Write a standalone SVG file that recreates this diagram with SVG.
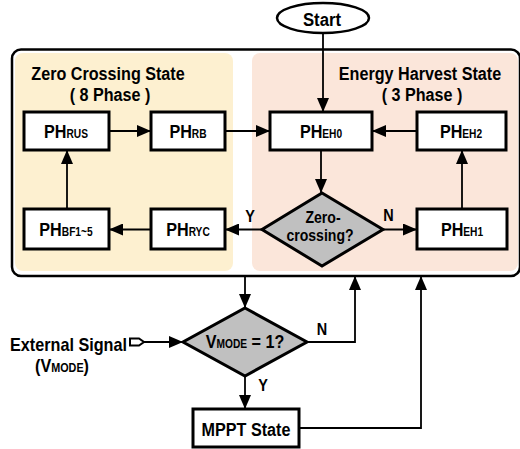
<svg xmlns="http://www.w3.org/2000/svg" width="520" height="449" viewBox="0 0 520 449">
<defs>
<marker id="ah" markerUnits="userSpaceOnUse" markerWidth="15" markerHeight="12" refX="14" refY="6" orient="auto">
<path d="M0,0 L14,6 L0,12 Z" fill="#000"/>
</marker>
<style>
text{font-family:"Liberation Sans",Arial,sans-serif;font-weight:bold;fill:#000;text-anchor:middle}
.t{font-size:19px}
.e{font-size:18px}
.ph{font-size:19px}
.sub{font-size:12px}
.lbl{font-size:17px}
.q{font-size:16px}
.box{fill:#fff;stroke:#000;stroke-width:3}
.dia{fill:#c0c0c0;stroke:#000;stroke-width:3}
.ln{fill:none;stroke:#000;stroke-width:1.8;marker-end:url(#ah)}
</style>
</defs>
<rect x="0" y="0" width="520" height="449" fill="#fff"/>
<g id="outer">
<rect x="12" y="49.5" width="508" height="226.5" rx="9" fill="#fff" stroke="#000" stroke-width="2.5"/>
</g>
<g id="zero-crossing-state">
<rect x="15" y="53" width="218" height="218" rx="8" fill="#fdf0d0"/>
<text class="t" transform="translate(108,80) scale(0.85,1)">Zero Crossing State</text>
<text class="t" transform="translate(110,101) scale(0.85,1)">( 8 Phase )</text>
</g>
<g id="energy-harvest-state">
<rect x="252" y="53" width="266" height="218" rx="8" fill="#fbe6da"/>
<text class="t" transform="translate(420,80) scale(0.85,1)">Energy Harvest State</text>
<text class="t" transform="translate(422,101) scale(0.85,1)">( 3 Phase )</text>
</g>
<g id="connectors">
<path class="ln" d="M323,33 V112"/>
<path class="ln" d="M109,131 H151"/>
<path class="ln" d="M225,131 H270"/>
<path class="ln" d="M417,131 H372"/>
<path class="ln" d="M321,150 V193"/>
<path class="ln" d="M383,229.5 H417"/>
<path class="ln" d="M462,209 V150"/>
<path class="ln" d="M262,229.5 H225"/>
<path class="ln" d="M151,229.5 H109"/>
<path class="ln" d="M67,209 V150"/>
<path class="ln" d="M245,276 V308"/>
<path class="ln" d="M245,376 V409"/>
<path class="ln" d="M307,342 H355 V276"/>
<path class="ln" d="M299,428 H421 V276"/>
<path class="ln" d="M144,342 H183"/>
<text class="lbl" transform="translate(250,222) scale(0.85,1)">Y</text>
<text class="lbl" transform="translate(388.5,221) scale(0.85,1)">N</text>
<text class="lbl" transform="translate(322,335) scale(0.85,1)">N</text>
<text class="lbl" transform="translate(263,391) scale(0.85,1)">Y</text>
</g>
<g id="start">
<ellipse cx="323" cy="18" rx="46" ry="15" fill="#fff" stroke="#000" stroke-width="2.5"/>
<text class="ph" transform="translate(322,26) scale(0.88,1)">Start</text>
</g>
<g id="ph-rus">
<rect class="box" x="24" y="112" width="85" height="38"/>
<text class="ph" transform="translate(66,138) scale(0.85,1)">PH<tspan class="sub">RUS</tspan></text>
</g>
<g id="ph-rb">
<rect class="box" x="151" y="112" width="74" height="38"/>
<text class="ph" transform="translate(188,138) scale(0.85,1)">PH<tspan class="sub">RB</tspan></text>
</g>
<g id="ph-eh0">
<rect class="box" x="270" y="112" width="102" height="38"/>
<text class="ph" transform="translate(321,138) scale(0.85,1)">PH<tspan class="sub">EH0</tspan></text>
</g>
<g id="ph-eh2">
<rect class="box" x="417" y="112" width="89" height="38"/>
<text class="ph" transform="translate(461,138) scale(0.85,1)">PH<tspan class="sub">EH2</tspan></text>
</g>
<g id="ph-bf">
<rect class="box" x="24" y="209" width="85" height="40"/>
<text class="ph" transform="translate(66,236) scale(0.85,1)">PH<tspan class="sub">BF1~5</tspan></text>
</g>
<g id="ph-ryc">
<rect class="box" x="151" y="209" width="74" height="40"/>
<text class="ph" transform="translate(188,236) scale(0.85,1)">PH<tspan class="sub">RYC</tspan></text>
</g>
<g id="ph-eh1">
<rect class="box" x="417" y="209" width="90" height="40"/>
<text class="ph" transform="translate(462,236) scale(0.85,1)">PH<tspan class="sub">EH1</tspan></text>
</g>
<g id="zero-crossing-decision">
<path class="dia" d="M322,193 L383,229.5 L322,266 L262,229.5 Z"/>
<text class="q" transform="translate(323,223) scale(0.88,1)">Zero-</text>
<text class="q" transform="translate(320,241) scale(0.88,1)">crossing?</text>
</g>
<g id="vmode-decision">
<path class="dia" d="M245,308 L307,342 L245,376 L183,342 Z"/>
<text class="ph" transform="translate(245,348) scale(0.85,1)">V<tspan class="sub">MODE</tspan> = 1?</text>
</g>
<g id="mppt-state">
<rect class="box" x="193" y="409" width="106" height="38"/>
<text class="ph" transform="translate(246,436) scale(0.85,1)">MPPT State</text>
</g>
<g id="external-signal">
<path d="M130,338.5 H139 L144,342 L139,345.5 H130 Z" fill="#fff" stroke="#000" stroke-width="2"/>
<text class="e" transform="translate(127,351) scale(0.9,1)" style="text-anchor:end">External Signal</text>
<text class="e" transform="translate(62,372) scale(0.9,1)">(V<tspan class="sub">MODE</tspan>)</text>
</g>
</svg>
